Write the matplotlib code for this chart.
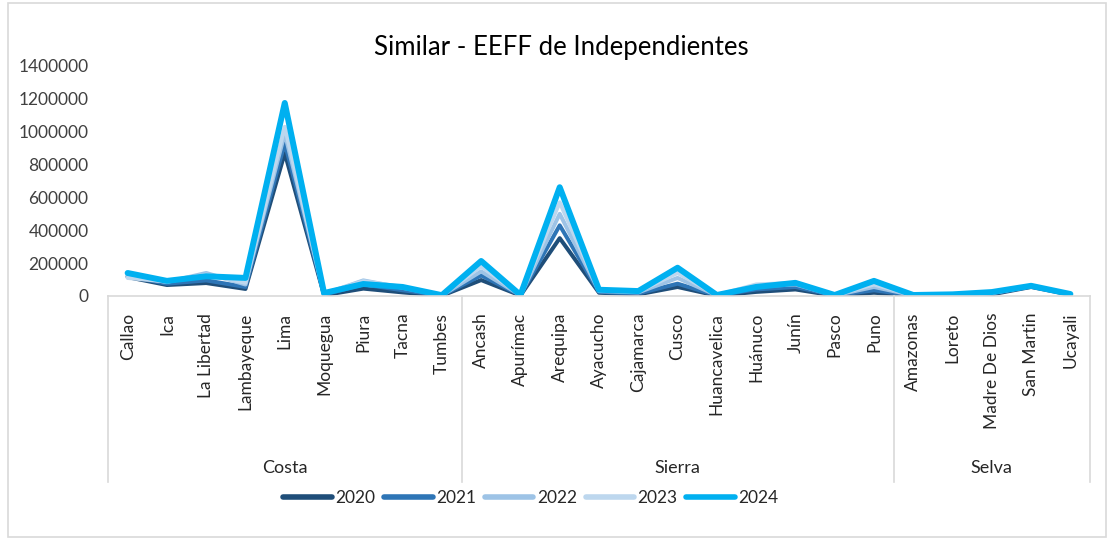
#!/usr/bin/env python3
"""Similar - EEFF de Independientes: line chart by region and year."""
import matplotlib

matplotlib.use("Agg")
import matplotlib.pyplot as plt
from matplotlib.patches import Rectangle

plt.rcParams["font.family"] = ["Lato", "DejaVu Sans"]

COSTA = ["Callao", "Ica", "La Libertad", "Lambayeque", "Lima", "Moquegua",
         "Piura", "Tacna", "Tumbes"]
SIERRA = ["Ancash", "Apurímac", "Arequipa", "Ayacucho", "Cajamarca", "Cusco",
          "Huancavelica", "Huánuco", "Junín", "Pasco", "Puno"]
SELVA = ["Amazonas", "Loreto", "Madre De Dios", "San Martin", "Ucayali"]
GROUPS = [("Costa", COSTA), ("Sierra", SIERRA), ("Selva", SELVA)]
CATEGORIES = COSTA + SIERRA + SELVA

YEARS = ["2020", "2021", "2022", "2023", "2024"]
V2020 = [115000, 67000, 79000, 43000, 870000, 5000, 45000, 22000, 2000,
         97000, 3000, 352000, 20000, 10000, 55000, 2000, 25000, 40000, 2000, 20000,
         2000, 3000, 10000, 55000, 8000]
V2021 = [120000, 75000, 95000, 55000, 930000, 8000, 70000, 35000, 3000,
         125000, 4000, 430000, 25000, 15000, 75000, 3000, 40000, 55000, 3000, 35000,
         3000, 4000, 15000, 58000, 10000]
V2022 = [125000, 85000, 140000, 70000, 990000, 12000, 95000, 50000, 4000,
         150000, 5000, 500000, 30000, 22000, 110000, 4000, 60000, 70000, 4000, 55000,
         4000, 6000, 18000, 60000, 12000]
V2023 = [110000, 88000, 130000, 80000, 1030000, 15000, 90000, 55000, 5000,
         180000, 5000, 570000, 33000, 26000, 140000, 5000, 70000, 80000, 5000, 70000,
         5000, 8000, 20000, 60000, 13000]
V2024 = [140000, 92000, 120000, 110000, 1175000, 18000, 73000, 55000, 5000,
         213000, 6000, 662000, 38000, 30000, 172000, 6000, 55000, 80000, 6000, 92000,
         6000, 10000, 24000, 62000, 12000]
SERIES = [V2020, V2021, V2022, V2023, V2024]
COLORS = ["#1F4E79", "#2E75B6", "#9DC3E6", "#BDD7EE", "#00B0F0"]
WIDTHS = [2.9, 2.9, 2.9, 2.9, 4.3]
Y_TICKS = [0, 200000, 400000, 600000, 800000, 1000000, 1200000, 1400000]

W, H = 1110, 540
fig = plt.figure(figsize=(W / 100, H / 100), dpi=100)
ax = fig.add_axes([108 / W, 1 - 296 / H, (1090 - 108) / W, (296 - 66) / H])

x = list(range(len(CATEGORIES)))
for year, vals, color, lw in zip(YEARS, SERIES, COLORS, WIDTHS):
    ax.plot(x, vals, color=color, linewidth=lw, label=year,
            solid_joinstyle="round", solid_capstyle="round")

ax.set_xlim(-0.5, len(CATEGORIES) - 0.5)
ax.set_ylim(0, 1400000)
ax.set_yticks(Y_TICKS)
ax.set_yticklabels([str(v) for v in Y_TICKS])
ax.tick_params(axis="y", length=0, pad=14, labelsize=12.5, labelcolor="#404040")
ax.set_xticks(x)
ax.set_xticklabels(CATEGORIES, rotation=90, va="top", ha="center")
ax.tick_params(axis="x", length=0, pad=12, labelsize=12.5, labelcolor="#262626")

for side in ("top", "right", "left"):
    ax.spines[side].set_visible(False)
ax.spines["bottom"].set_color("#D9D9D9")
ax.spines["bottom"].set_linewidth(1.2)

# category group box below axis
trans = ax.get_xaxis_transform()
axis_h = 296 - 66
box_bottom = -(482 - 296) / axis_h
label_y = -(468 - 296) / axis_h
start = 0
edges = [-0.5]
for name, members in GROUPS:
    end = start + len(members)
    edges.append(end - 0.5)
    ax.text((start + end - 1) / 2, label_y, name, transform=trans,
            ha="center", va="center", fontsize=13, color="#262626")
    start = end
for e in edges:
    ax.plot([e, e], [0, box_bottom], transform=trans, color="#D9D9D9",
            linewidth=1.2, clip_on=False)

fig.text(561 / W, 1 - 47 / H, "Similar - EEFF de Independientes",
         ha="center", va="center", fontsize=18.5, color="#000000")

leg = fig.legend(loc="center", bbox_to_anchor=(531 / W, 1 - 498 / H), ncol=5,
                 frameon=False, fontsize=12.5, handlelength=2.8,
                 handletextpad=0.2, columnspacing=0.5)
for line in leg.get_lines():
    line.set_linewidth(4.0)
    line.set_solid_capstyle("round")
for t in leg.get_texts():
    t.set_color("#262626")

fig.patches.append(Rectangle((8 / W, 3 / H), (W - 12) / W, (H - 6) / H,
                             transform=fig.transFigure, fill=False,
                             edgecolor="#D9D9D9", linewidth=1.2))

fig.savefig("out.png", dpi=100)
